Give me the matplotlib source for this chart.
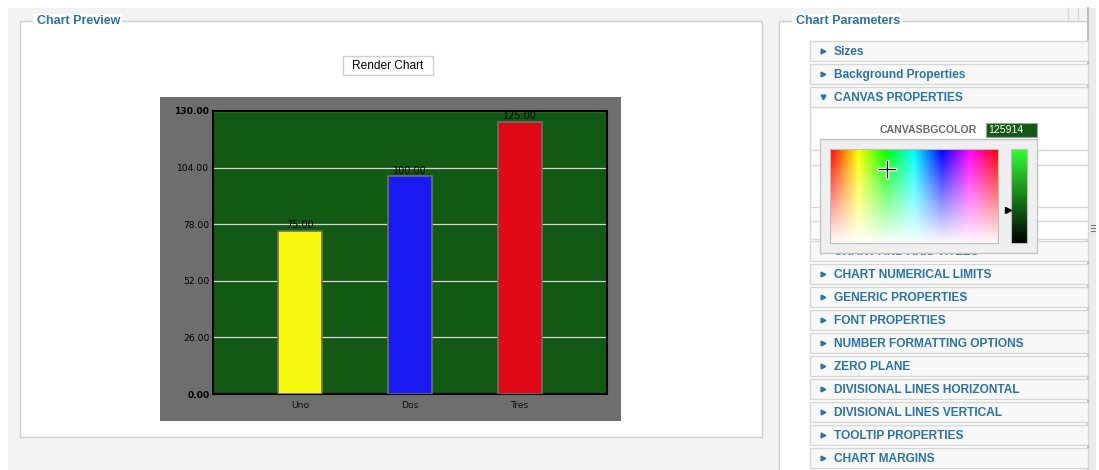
import numpy as np
import matplotlib
matplotlib.use("Agg")
import matplotlib.pyplot as plt
from matplotlib.patches import Rectangle
from matplotlib.colors import hsv_to_rgb

# ---- chart data ----
categories = ["Uno", "Dos", "Tres"]
values = [75, 100, 125]
bar_colors = ["#f7f70d", "#1a1af5", "#e10816"]
y_ticks = [0, 26, 52, 78, 104, 130]

# ---- UI text ----
menu_items = ["Sizes", "Background Properties", "CANVAS PROPERTIES",
              "CHART AND AXIS TITLES", "CHART NUMERICAL LIMITS",
              "GENERIC PROPERTIES", "FONT PROPERTIES",
              "NUMBER FORMATTING OPTIONS", "ZERO PLANE",
              "DIVISIONAL LINES HORIZONTAL", "DIVISIONAL LINES VERTICAL",
              "TOOLTIP PROPERTIES", "CHART MARGINS"]
menu_tops = [41, 64, 87, 241, 264, 287, 310, 333, 356, 379, 402, 425, 448]

W, H = 1099, 470
fig = plt.figure(figsize=(W / 100, H / 100), dpi=100)
fig.patch.set_facecolor("white")

bg = fig.add_axes([0, 0, 1, 1])
bg.set_xlim(0, W)
bg.set_ylim(H, 0)
bg.axis("off")

UI = "Liberation Sans"
BLUE = "#2a72a8"

def rect(x0, y0, x1, y1, fc, ec="none", lw=1.0, z=1):
    bg.add_patch(Rectangle((x0, y0), x1 - x0, y1 - y0, facecolor=fc,
                           edgecolor=ec, linewidth=lw, zorder=z))

# page background
rect(8, 8, 1088, 470, "#f3f3f3", z=0)

# Chart Preview fieldset
rect(20, 21, 762, 437, "white", "#d0d0d0", 1.0, z=1)
rect(33, 14, 122, 27, "white", z=2)
bg.text(37, 21, "Chart Preview", color=BLUE, fontsize=9, fontweight="bold",
        family=UI, va="center", ha="left", zorder=3)

# Render button
rect(343, 56, 433, 75, "white", "#cfcfcf", 1.0, z=2)
bg.text(388, 66, "Render Chart", color="black", fontsize=8.6, family=UI,
        va="center", ha="center", zorder=3)

# chart background (grey)
rect(160, 97, 621, 421, "#6e6e6e", z=2)

# Chart Parameters fieldset
rect(779, 21, 1088, 475, "white", "#d0d0d0", 1.0, z=1)
rect(792, 14, 902, 27, "white", z=2)
bg.text(796, 21, "Chart Parameters", color=BLUE, fontsize=9, fontweight="bold",
        family=UI, va="center", ha="left", zorder=3)

# scrollbar strip
rect(1088, 8, 1096, 470, "#ebebeb", z=1)
bg.plot([1088, 1088], [8, 470], color="#bdbdbd", lw=1.5, zorder=2)
for yy in (225, 228, 231):
    bg.plot([1091, 1095], [yy, yy], color="#777777", lw=0.8, zorder=3)
bg.plot([1068, 1068], [8, 21], color="#d8d8d8", lw=1, zorder=2)
bg.plot([1078, 1078], [8, 21], color="#d8d8d8", lw=1, zorder=2)

# expanded canvas panel
rect(810, 107, 1088, 239, "white", "#d8d8d8", 1.0, z=2)
for yy in (150, 165, 207, 221):
    bg.plot([810, 1088], [yy, yy], color="#d8d8d8", lw=1, zorder=2)
bg.text(977, 130, "CANVASBGCOLOR", color="#6a6a6a", fontsize=7.6,
        fontweight="bold", family=UI, va="center", ha="right", zorder=3)
rect(986, 123, 1037, 137, "#125914", "#a0a0a0", 0.8, z=3)
bg.text(988, 130, "125914", color="white", fontsize=7.6, family=UI,
        va="center", ha="left", zorder=4)

# accordion rows
for name, top in zip(menu_items, menu_tops):
    rect(810, top, 1088, top + 20, "#f8f8f8", "#d6d6d6", 1.0, z=2)
    cy = top + 10
    mk = "v" if name == "CANVAS PROPERTIES" else ">"
    bg.plot([823], [cy], marker=mk, color=BLUE, markersize=3.4, zorder=3)
    bg.text(834, cy + 1, name, color=BLUE, fontsize=8.6, fontweight="bold",
            family=UI, va="center", ha="left", zorder=3)

# colour picker popup
rect(820, 139, 1037, 253, "#efefef", "#c4c4c4", 1.0, z=5)
nh, nw = 100, 200
hue = np.linspace(0, 1, nw)[None, :].repeat(nh, 0)
sat = np.linspace(1, 0.02, nh)[:, None].repeat(nw, 1)
hsv = np.dstack([hue, sat, np.ones_like(hue)])
bg.imshow(hsv_to_rgb(hsv), extent=[830, 998, 243, 149], aspect="auto",
          zorder=6, interpolation="bilinear")
rect(830, 149, 998, 243, "none", "#bdbdbd", 0.8, z=7)
top_c = np.array([0.2, 1.0, 0.2])
ramp = np.linspace(1, 0, nh)[:, None, None] * top_c[None, None, :]
bg.imshow(ramp, extent=[1011, 1027, 243, 149], aspect="auto", zorder=6,
          interpolation="bilinear")
rect(1011, 149, 1027, 243, "none", "#bdbdbd", 0.8, z=7)
bg.plot([1008], [210], marker=">", color="black", markersize=4.5, zorder=8)
for lw, c in ((2.4, "white"), (0.9, "black")):
    bg.plot([879, 895], [169, 169], color=c, lw=lw, zorder=8)
    bg.plot([887, 887], [161, 177], color=c, lw=lw, zorder=8)

# ---- the chart itself ----
L, R, T, B = 213, 607, 111, 394
ax = fig.add_axes([L / W, (H - B) / H, (R - L) / W, (B - T) / H])
ax.set_zorder(10)
ax.set_facecolor("#125914")
x = np.arange(len(categories))
ax.bar(x, values, width=0.4, color=bar_colors, edgecolor="#6e6e6e",
       linewidth=1.2, zorder=3)
for xi, v in zip(x, values):
    ax.annotate(f"{v:.2f}", (xi, v), xytext=(0, 0.3), textcoords="offset points",
                ha="center", va="bottom", fontsize=7, color="black", zorder=4)
ax.set_xlim(-87 / 110, 2 + 87 / 110)
ax.set_ylim(0, 130)
ax.set_yticks(y_ticks)
ax.set_yticklabels([f"{t:.2f}" for t in y_ticks], fontsize=6.6, color="black")
for lab, t in zip(ax.get_yticklabels(), y_ticks):
    if t in (0, 130):
        lab.set_fontweight("bold")
ax.set_xticks(x)
ax.set_xticklabels(categories, fontsize=6.6, color="#111111")
ax.tick_params(length=0, pad=2.5)
ax.tick_params(axis="x", pad=5)
ax.yaxis.grid(True, color="#d6d6d6", lw=0.9, zorder=1)
ax.set_axisbelow(True)
for s in ax.spines.values():
    s.set_color("black")
    s.set_linewidth(1.5)

fig.savefig("out.png", dpi=100)
